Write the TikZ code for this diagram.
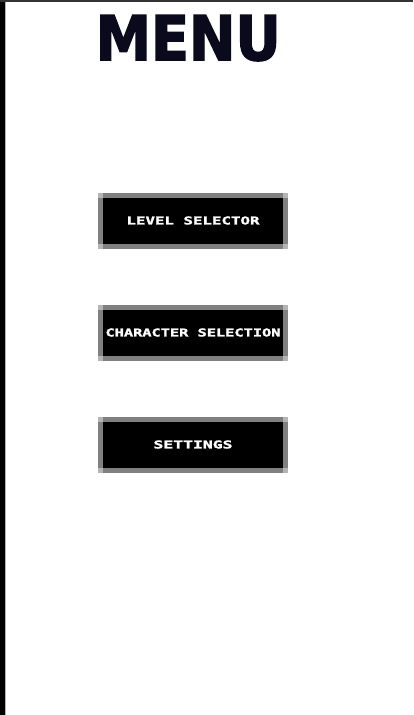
\documentclass[tikz,border=0pt]{standalone}
\usepackage{graphicx}
\usepackage{fontspec}
\setmainfont{DejaVu Sans}
\newfontfamily\btnfont[FakeBold=1.5]{DejaVu Sans Mono Bold}
\newfontfamily\titlefont[FakeBold=2.5]{DejaVu Sans Bold}
\definecolor{titlecol}{HTML}{0A0A1C}
\definecolor{bordergray}{HTML}{808080}
\definecolor{cornergray}{HTML}{B4B4B4}
\definecolor{topline}{HTML}{333333}
\tikzset{
  btn/.style={fill=black, draw=bordergray, line width=5pt, outer sep=0pt, minimum width=185pt, minimum height=51pt, inner sep=0pt, text=white},
  corner/.style={fill=cornergray},
}
\newcommand{\btntext}[2]{\resizebox{#1pt}{8pt}{\btnfont #2}}
\begin{document}
\begin{tikzpicture}[x=1pt,y=-1pt]
\useasboundingbox (0,0) rectangle (413,715);
\fill[white] (0,0) rectangle (413,715);
\fill[black] (0,0) rectangle (5,715);
\fill[cornergray] (5,0) rectangle (6,715);
\fill[topline] (0,0) rectangle (413,2);
% title
\node[anchor=north west, inner sep=0pt, text=titlecol] (title) at (95.5,15) {\resizebox{185pt}{45pt}{\titlefont MENU}};
% buttons
\node[btn] (level) at (193,220.5) {\btntext{133}{LEVEL SELECTOR}};
\node[btn] (character) at (193,332.5) {\btntext{175}{CHARACTER SELECTION}};
\node[btn] (settings) at (193,444.5) {\btntext{79}{SETTINGS}};
\foreach \b in {level,character,settings}{
  \foreach \a in {north west,north east,south west,south east}{
    \fill[corner] ([xshift=-2.5pt,yshift=-2.5pt]\b.\a) rectangle ([xshift=2.5pt,yshift=2.5pt]\b.\a);
  }
}
\end{tikzpicture}
\end{document}
